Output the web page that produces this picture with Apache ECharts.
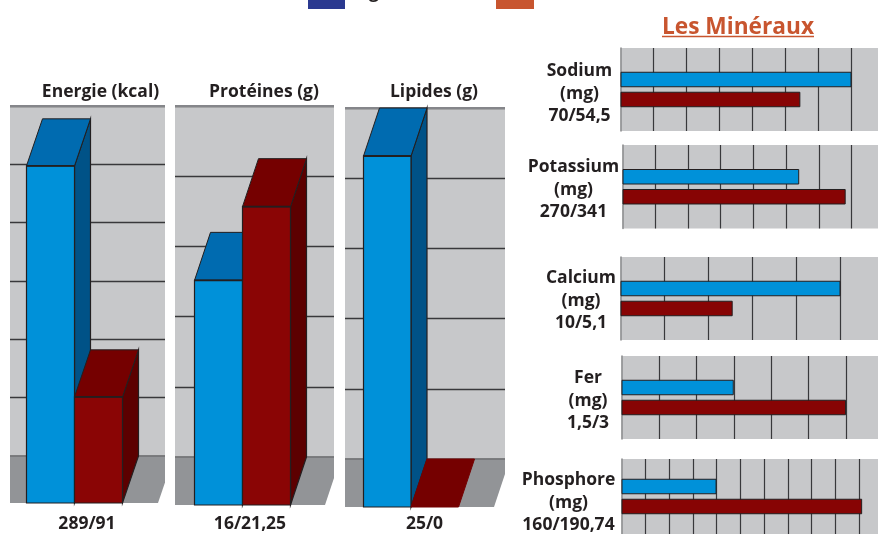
<!DOCTYPE html>
<html><head><meta charset="utf-8">
<style>html,body{margin:0;padding:0;background:#fff}#c{width:878px;height:534px}</style>
<script src="https://cdn.jsdelivr.net/npm/echarts@6/dist/echarts.min.js"></script>
</head><body><div id="c"></div>
<script>
// ---- data ----
const energyValues = [289, 91];
const proteinValues = [16, 21.25];
const lipidValues = [25, 0];
const sodiumValues = [70, 54.5];
const potassiumValues = [270, 341];
const calciumValues = [10, 5.1];
const ironValues = [1.5, 3];
const phosphorusValues = [160, 405];
const verticalTitles = ['Energie (kcal)', 'Protéines (g)', 'Lipides (g)'];
const verticalLabels = ['289/91', '16/21,25', '25/0'];
const mineralLabels = ['Sodium\n(mg)\n70/54,5', 'Potassium\n(mg)\n270/341', 'Calcium\n(mg)\n10/5,1', 'Fer\n(mg)\n1,5/3', 'Phosphore\n(mg)\n160/190,74'];

// ---- layout & style ----
const INK = '#231f20';
const BLUE = { front: '#0091d9', top: '#006bb0', side: '#005287' };
const RED = { front: '#8a0505', top: '#750000', side: '#5c0000' };
const WALL = '#c7c8ca', FLOOR = '#929497', EDGE = '#85868a';
const FONT = '"Open Sans", "Noto Sans", sans-serif';
const panels = [
  { values: energyValues, max: 300, interval: 50, left: 10, top: 106, w: 155, h: 350, bar: 26.5, unit: 48, dx: 16, dy: 47, cut: 7, title: 100.5, label: 87, labelTop: 513 },
  { values: proteinValues, max: 25, interval: 5, left: 175, top: 106, w: 159, h: 351, bar: 194.5, unit: 48, dx: 16, dy: 48, cut: 9, title: 264, label: 250, labelTop: 513 },
  { values: lipidValues, max: 25, interval: 5, left: 345, top: 108, w: 160, h: 351, bar: 363.5, unit: 47.5, dx: 16, dy: 48, cut: 11, title: 434, label: 424.5, labelTop: 513 }
];
const minerals = [
  { values: sodiumValues, interval: 10, pxPerUnit: 3.3, left: 620.5, top: 48, h: 83, labelX: 579.5, labelTop: 59.5 },
  { values: potassiumValues, interval: 50, pxPerUnit: 0.6545, left: 622.5, top: 145, h: 83.5, labelX: 573.5, labelTop: 155.5 },
  { values: calciumValues, interval: 2, pxPerUnit: 22, left: 620.5, top: 257, h: 83, labelX: 581, labelTop: 266.5 },
  { values: ironValues, interval: 0.5, pxPerUnit: 74.85, left: 621.5, top: 356, h: 83, labelX: 588, labelTop: 366.5 },
  { values: phosphorusValues, interval: 40, pxPerUnit: 0.5942, left: 621.5, top: 459, h: 79, labelX: 568.5, labelTop: 468.5 }
];
const RIGHT = 878;

const grid = [], xAxis = [], yAxis = [], series = [], title = [];

function textTitle(text, x, top, size, color, lh) {
  title.push({ text, left: x, top, textAlign: 'center', padding: 0,
    textStyle: { fontFamily: FONT, fontSize: size, fontWeight: 'bold', color: color || INK, lineHeight: lh || size * 1.3 } });
}

panels.forEach((p, idx) => {
  grid.push({ left: p.left, top: p.top, width: p.w, height: p.h, show: true, backgroundColor: WALL, borderWidth: 0 });
  const min = -(p.bar - p.left) / p.unit;
  xAxis.push({ type: 'value', gridIndex: idx, min, max: min + p.w / p.unit, show: false });
  yAxis.push({ type: 'value', gridIndex: idx, min: 0, max: p.max, interval: p.interval,
    axisLine: { show: false }, axisTick: { show: false }, axisLabel: { show: false },
    splitLine: { show: true, lineStyle: { color: '#38383b', width: 1.4 } } });

  // floor and wall edges
  series.push({ type: 'custom', xAxisIndex: idx, yAxisIndex: idx, z: 2, silent: true, animation: false, data: [[0, 0]],
    renderItem: (params, api) => {
      const cs = params.coordSys, b = cs.y + cs.height, r = cs.x + cs.width, fb = b + p.dy, cut = p.cut;
      return { type: 'group', children: [
        { type: 'polygon', shape: { points: [[cs.x, b], [r, b], [r, fb - cut * p.dy / p.dx], [r - cut, fb], [cs.x, fb]] }, style: { fill: FLOOR } },
        { type: 'line', shape: { x1: cs.x, y1: b, x2: r, y2: b }, style: { stroke: '#6f7073', lineWidth: 1.5 } },
        { type: 'line', shape: { x1: cs.x, y1: cs.y, x2: r, y2: cs.y }, style: { stroke: EDGE, lineWidth: 2 } }
      ] };
    } });

  // one 3D bar per series
  [BLUE, RED].forEach((col, i) => {
    series.push({ type: 'custom', name: i ? 'Rouge' : 'Bleu', xAxisIndex: idx, yAxisIndex: idx, z: 3 + i, animation: false,
      data: [[i, p.values[i]]],
      renderItem: (params, api) => {
        const tl = api.coord([api.value(0), api.value(1)]);
        const br = api.coord([api.value(0) + 1, 0]);
        const x0 = tl[0], x1 = br[0], yt = tl[1] + p.dy, yb = br[1] + p.dy, dx = p.dx, dy = p.dy;
        const line = { stroke: INK, lineWidth: 1.2 };
        const kids = [];
        if (api.value(1) > 0) {
          kids.push({ type: 'polygon', shape: { points: [[x1, yt], [x1 + dx, yt - dy], [x1 + dx, yb - dy], [x1, yb]] }, style: { fill: col.side, ...line } });
        }
        kids.push({ type: 'polygon', shape: { points: [[x0, yt], [x0 + dx, yt - dy], [x1 + dx, yt - dy], [x1, yt]] }, style: { fill: col.top, stroke: api.value(1) > 0 ? INK : col.top, lineWidth: 1 } });
        if (api.value(1) > 0) {
          kids.push({ type: 'rect', shape: { x: x0, y: yt, width: x1 - x0, height: yb - yt }, style: { fill: col.front, ...line } });
          kids.push({ type: 'line', shape: { x1: x0, y1: yt, x2: x1, y2: yt }, style: { stroke: INK, lineWidth: 1.8 } });
        }
        return { type: 'group', children: kids };
      } });
  });

  textTitle(verticalTitles[idx], p.title, 80.5, 17.5);
  textTitle(verticalLabels[idx], p.label, p.labelTop, 17.5);
});

minerals.forEach((m, k) => {
  const idx = panels.length + k, w = RIGHT - m.left;
  grid.push({ left: m.left, top: m.top, width: w, height: m.h, show: true, backgroundColor: WALL, borderWidth: 0 });
  xAxis.push({ type: 'value', gridIndex: idx, min: 0, max: w / m.pxPerUnit, interval: m.interval,
    axisLine: { show: false }, axisTick: { show: false }, axisLabel: { show: false },
    splitLine: { show: true, showMinLine: false, showMaxLine: false, lineStyle: { color: '#38383b', width: 1.2 } } });
  yAxis.push({ type: 'category', gridIndex: idx, inverse: true, data: ['mg'],
    axisLine: { show: true, onZero: false, lineStyle: { color: '#8a8b8d', width: 1.5 } },
    axisTick: { show: false }, axisLabel: { show: false }, splitLine: { show: false } });
  [BLUE, RED].forEach((col, i) => {
    series.push({ type: 'bar', name: i ? 'Rouge' : 'Bleu', xAxisIndex: idx, yAxisIndex: idx, z: 3, animation: false,
      data: [m.values[i]], barWidth: 15.5, barGap: '29%',
      itemStyle: { color: i ? '#870404' : col.front, borderColor: INK, borderWidth: 1 } });
  });
  textTitle(mineralLabels[k], m.labelX, m.labelTop, 17.5, INK, 22.7);
});

textTitle('Les Minéraux', 738, 12.5, 22.7, '#c8552f');
textTitle('g', 374, -18, 17.5);

const chart = echarts.init(document.getElementById('c'), null, { renderer: 'canvas', width: 878, height: 534 });
chart.setOption({
  animation: false, backgroundColor: '#fff', grid, xAxis, yAxis, series, title, tooltip: { show: false }, legend: { show: false },
  graphic: [
    { type: 'rect', shape: { x: 308, y: 0, width: 37, height: 9 }, style: { fill: '#2b3990' } },
    { type: 'rect', shape: { x: 496, y: 0, width: 38, height: 9 }, style: { fill: '#c8552f' } },
    { type: 'line', shape: { x1: 662, y1: 36.5, x2: 814, y2: 36.5 }, style: { stroke: '#c8552f', lineWidth: 1.5 } }
  ]
});
</script></body></html>
